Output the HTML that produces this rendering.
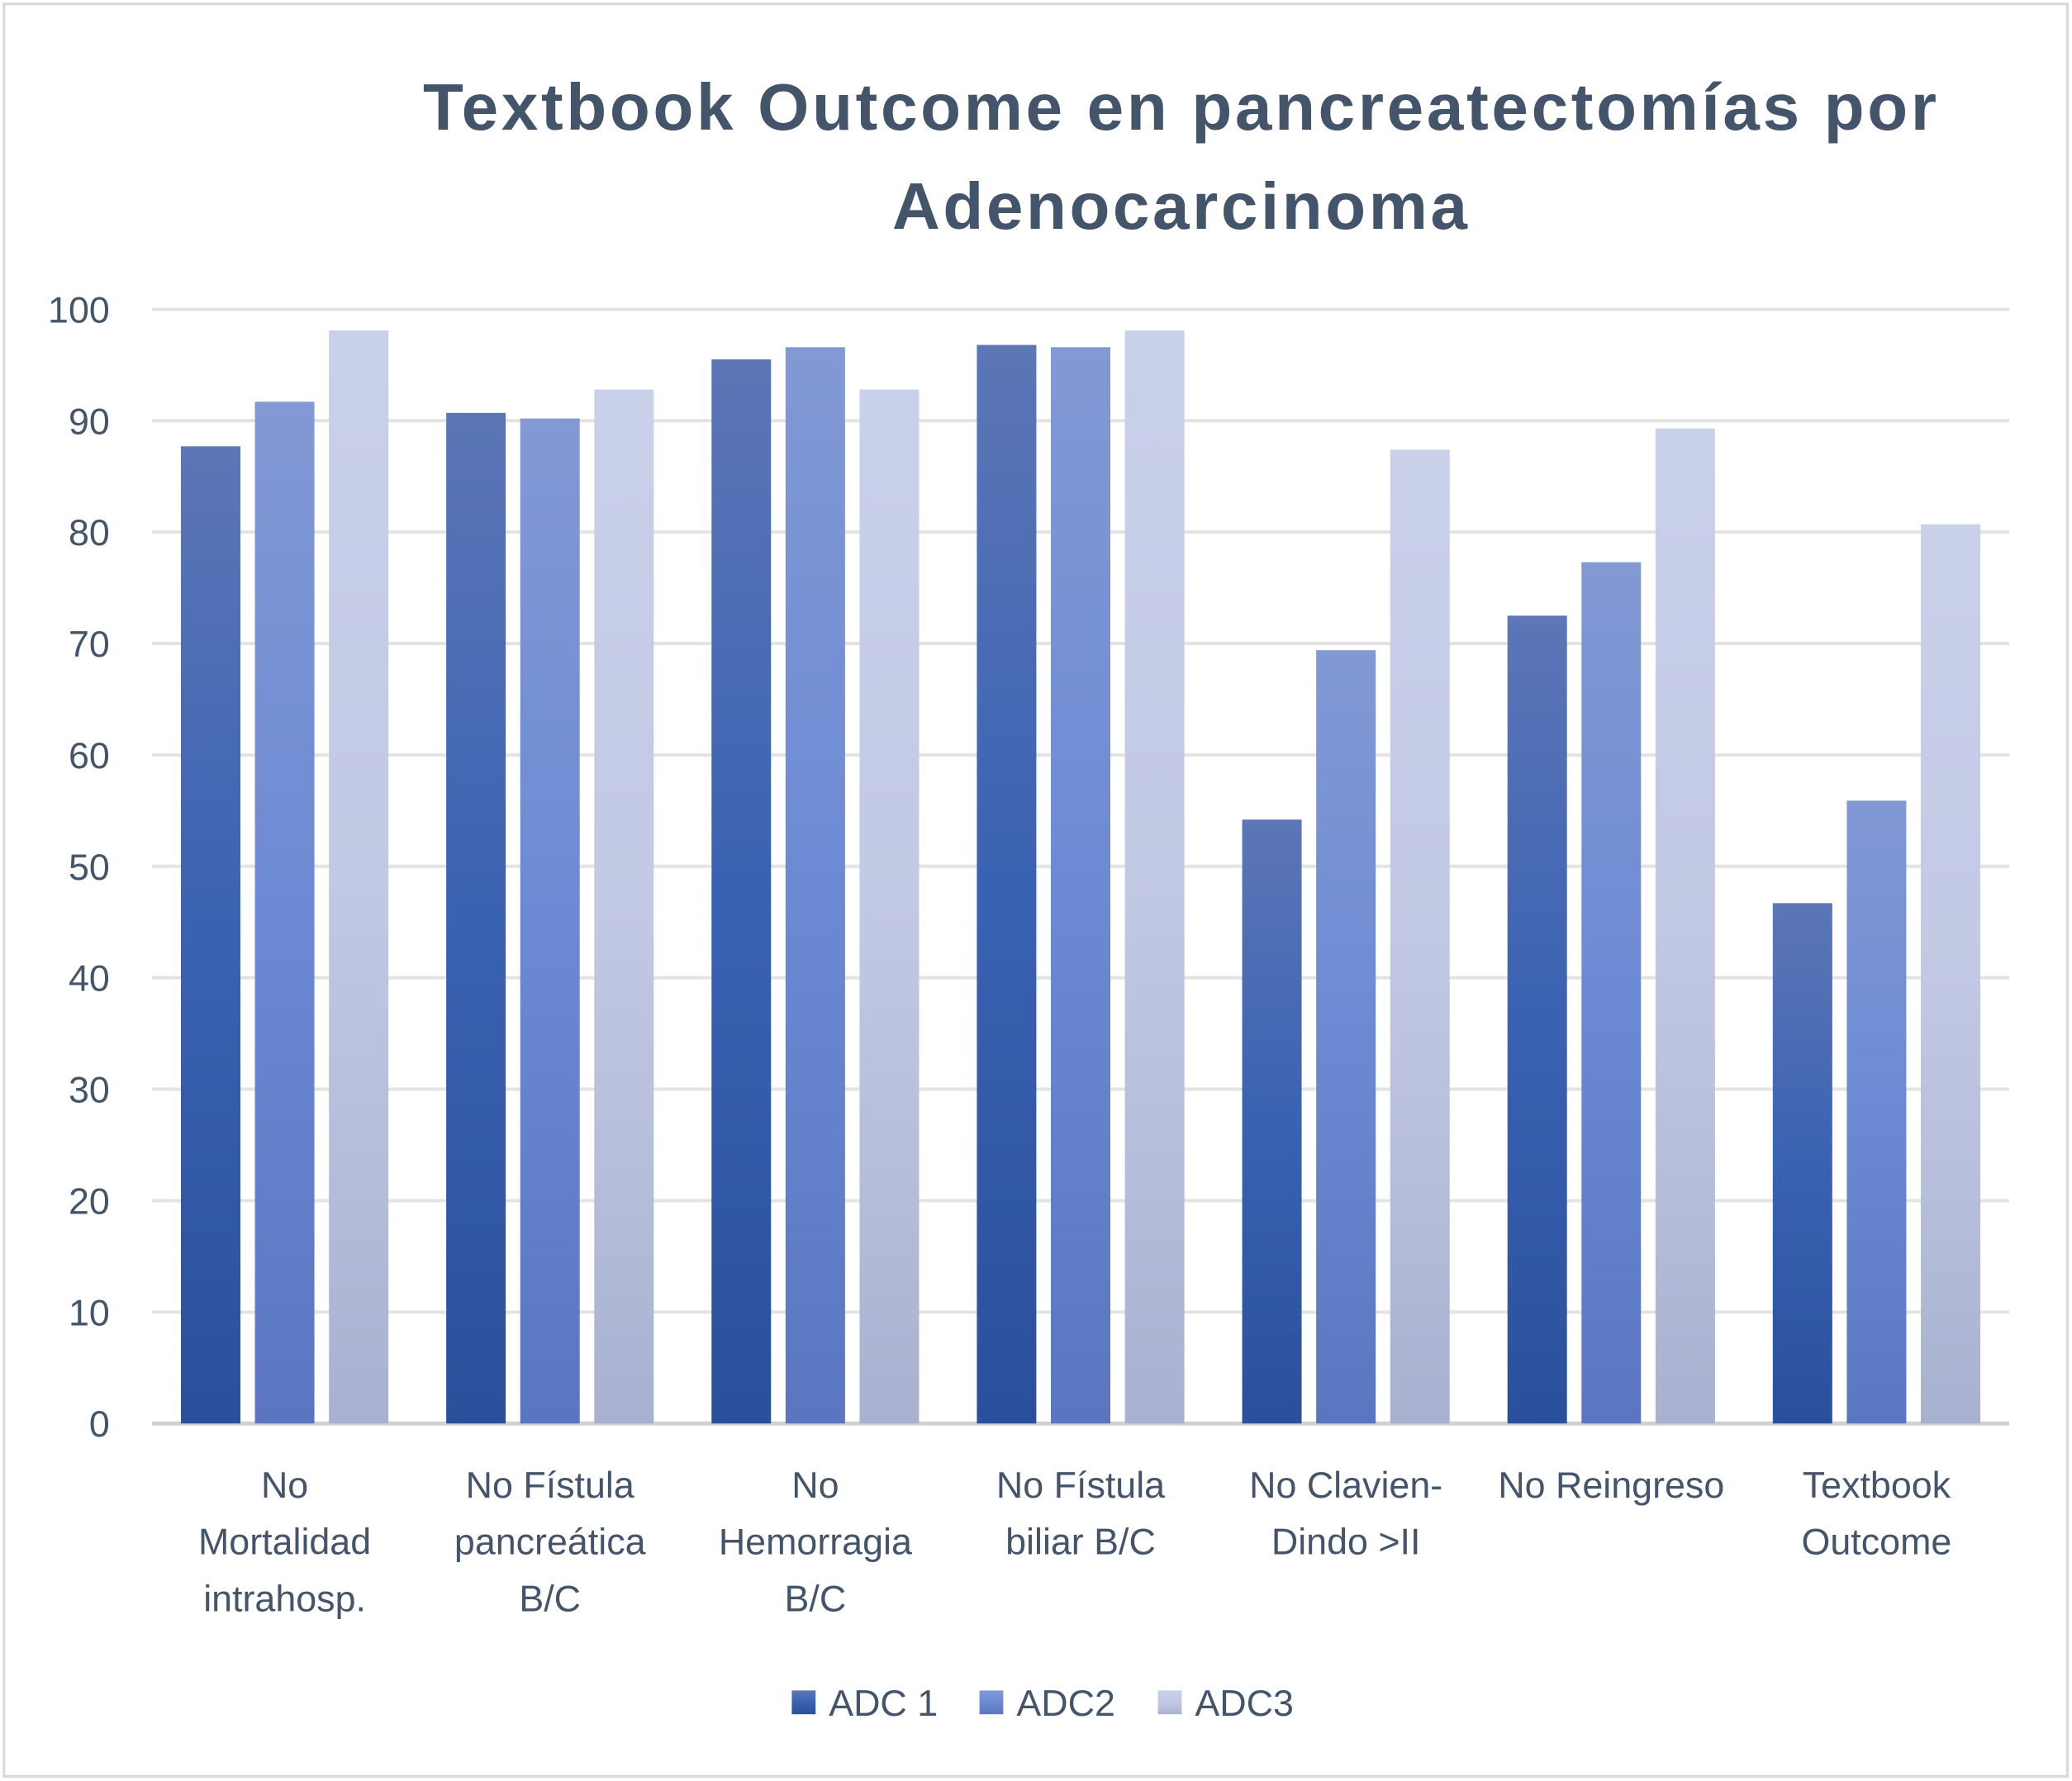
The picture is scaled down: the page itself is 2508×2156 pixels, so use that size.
<!DOCTYPE html>
<html><head><meta charset="utf-8"><style>
html,body{margin:0;padding:0;background:#fff;}
svg{display:block;}
text{font-family:"Liberation Sans",sans-serif;}
</style></head><body>
<svg id="chart" width="2508" height="2156" viewBox="0 0 1567.5 1347.5" preserveAspectRatio="none" xmlns="http://www.w3.org/2000/svg">
<defs>
<linearGradient id="g0" x1="0" y1="0" x2="0" y2="1"><stop offset="0" stop-color="#5c76b6"/><stop offset="0.5" stop-color="#3a62b2"/><stop offset="1" stop-color="#2a509c"/></linearGradient>
<linearGradient id="g1" x1="0" y1="0" x2="0" y2="1"><stop offset="0" stop-color="#8299d4"/><stop offset="0.5" stop-color="#6c8ad4"/><stop offset="1" stop-color="#5a76c0"/></linearGradient>
<linearGradient id="g2" x1="0" y1="0" x2="0" y2="1"><stop offset="0" stop-color="#c9d0ea"/><stop offset="0.5" stop-color="#c2c9e4"/><stop offset="1" stop-color="#a8b2d0"/></linearGradient>
</defs>
<rect x="3" y="3" width="1561" height="1341" fill="#fff" stroke="#d9d9d9" stroke-width="2"/>
<text x="320" y="98" textLength="1145" lengthAdjust="spacing" font-size="50" font-weight="bold" fill="#44546a">Textbook Outcome en pancreatectomías por</text>
<text x="675" y="173" textLength="435" lengthAdjust="spacing" font-size="50" font-weight="bold" fill="#44546a">Adenocarcinoma</text>
<g id="grid"></g><g id="bars"></g><g id="xl"></g>
<g>
<rect x="599" y="1279" width="18" height="18" fill="url(#g0)"/>
<text x="627" y="1298" font-size="28" fill="#44546a">ADC 1</text>
<rect x="741" y="1279" width="18" height="18" fill="url(#g1)"/>
<text x="769" y="1298" font-size="28" fill="#44546a">ADC2</text>
<rect x="876" y="1279" width="18" height="18" fill="url(#g2)"/>
<text x="904" y="1298" font-size="28" fill="#44546a">ADC3</text>
</g>
</svg>
<script>
const categories=[["No","Mortalidad","intrahosp."],["No Fístula","pancreática","B/C"],["No","Hemorragia","B/C"],["No Fístula","biliar B/C"],["No Clavien-","Dindo >II"],["No Reingreso"],["Textbook","Outcome"]];
const adc1=[87.7,90.7,95.5,96.8,54.2,72.5,46.7];
const adc2=[91.7,90.2,96.6,96.6,69.4,77.3,55.9];
const adc3=[98.1,92.8,92.8,98.1,87.4,89.3,80.7];
const ticks=[0,10,20,30,40,50,60,70,80,90,100];
const NS="http://www.w3.org/2000/svg";
const x0=115,x1=1520,yb=1077,yt=234;
const y=v=>yb-(v/100)*(yb-yt);
const bw=(x1-x0)/categories.length;
const xc=i=>x0+bw*(i+0.5);
function mk(t,a,p){const e=document.createElementNS(NS,t);for(const k in a)e.setAttribute(k,a[k]);p.appendChild(e);return e;}
const grid=document.getElementById('grid');
ticks.forEach(t=>{
 const l=mk('line',{x1:x0,x2:x1,y1:y(t),y2:y(t),stroke:t===0?'#d0d0d0':'#e3e3e3','stroke-width':t===0?3:2.5},grid);
 
 
 const tx=mk('text',{x:83,y:y(t)+10,'text-anchor':'end','font-size':28,fill:'#44546a'},grid);
 tx.textContent=t;
 
 
});
const bars=document.getElementById('bars');
[adc1,adc2,adc3].forEach((s,si)=>{
 s.forEach((v,i)=>{
  const r=mk('rect',{x:xc(i)-78.5+si*56,y:y(v),width:45,height:yb-y(v),fill:'url(#g'+si+')'},bars);
  
  
 });
});
const xl=document.getElementById('xl');
categories.forEach((c,i)=>{
 c.forEach((ln,j)=>{
  const t=mk('text',{x:xc(i),y:1133+j*43,'text-anchor':'middle','font-size':28,fill:'#44546a'},xl);
  t.textContent=ln;
  
  
 });
});
</script>
</body></html>
